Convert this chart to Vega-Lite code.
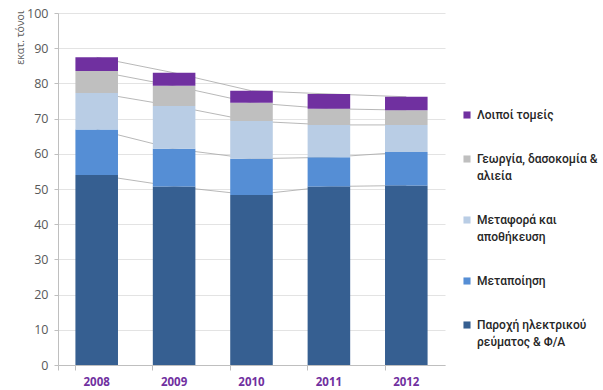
{
  "$schema": "https://vega.github.io/schema/vega-lite/v6.json",
  "autosize": "none",
  "width": 387,
  "height": 352,
  "padding": {"left": 58, "top": 13, "right": 158, "bottom": 25},
  "background": "white",
  "config": {"view": {"stroke": null}},
  "data": {
    "values": [
      {"year": "2008", "sector": "Παροχή ηλεκτρικού ρεύματος & Φ/Α", "rank": 1, "value": 54.0},
      {"year": "2008", "sector": "Μεταποίηση", "rank": 2, "value": 12.9},
      {"year": "2008", "sector": "Μεταφορά και αποθήκευση", "rank": 3, "value": 10.4},
      {"year": "2008", "sector": "Γεωργία, δασοκομία & αλιεία", "rank": 4, "value": 6.2},
      {"year": "2008", "sector": "Λοιποί τομείς", "rank": 5, "value": 3.9},
      {"year": "2009", "sector": "Παροχή ηλεκτρικού ρεύματος & Φ/Α", "rank": 1, "value": 50.7},
      {"year": "2009", "sector": "Μεταποίηση", "rank": 2, "value": 10.7},
      {"year": "2009", "sector": "Μεταφορά και αποθήκευση", "rank": 3, "value": 12.2},
      {"year": "2009", "sector": "Γεωργία, δασοκομία & αλιεία", "rank": 4, "value": 5.7},
      {"year": "2009", "sector": "Λοιποί τομείς", "rank": 5, "value": 3.7},
      {"year": "2010", "sector": "Παροχή ηλεκτρικού ρεύματος & Φ/Α", "rank": 1, "value": 48.3},
      {"year": "2010", "sector": "Μεταποίηση", "rank": 2, "value": 10.3},
      {"year": "2010", "sector": "Μεταφορά και αποθήκευση", "rank": 3, "value": 10.7},
      {"year": "2010", "sector": "Γεωργία, δασοκομία & αλιεία", "rank": 4, "value": 5.2},
      {"year": "2010", "sector": "Λοιποί τομείς", "rank": 5, "value": 3.4},
      {"year": "2011", "sector": "Παροχή ηλεκτρικού ρεύματος & Φ/Α", "rank": 1, "value": 50.7},
      {"year": "2011", "sector": "Μεταποίηση", "rank": 2, "value": 8.3},
      {"year": "2011", "sector": "Μεταφορά και αποθήκευση", "rank": 3, "value": 9.2},
      {"year": "2011", "sector": "Γεωργία, δασοκομία & αλιεία", "rank": 4, "value": 4.6},
      {"year": "2011", "sector": "Λοιποί τομείς", "rank": 5, "value": 4.2},
      {"year": "2012", "sector": "Παροχή ηλεκτρικού ρεύματος & Φ/Α", "rank": 1, "value": 51.0},
      {"year": "2012", "sector": "Μεταποίηση", "rank": 2, "value": 9.5},
      {"year": "2012", "sector": "Μεταφορά και αποθήκευση", "rank": 3, "value": 7.7},
      {"year": "2012", "sector": "Γεωργία, δασοκομία & αλιεία", "rank": 4, "value": 4.2},
      {"year": "2012", "sector": "Λοιποί τομείς", "rank": 5, "value": 3.8}
    ]
  },
  "encoding": {
    "x": {
      "field": "year", "type": "nominal",
      "scale": {"paddingInner": 0.45, "paddingOuter": 0.225},
      "axis": {
        "title": null, "labelAngle": 0, "bandPosition": 0, "tickExtra": true,
        "domainColor": "#bfbfbf", "tickColor": "#bfbfbf", "tickSize": 5,
        "labelColor": "#7030A0", "labelFont": "Open Sans", "labelFontSize": 11.5,
        "labelFontWeight": "bold", "labelPadding": 6, "grid": false
      }
    }
  },
  "layer": [
    {
      "transform": [
        {"stack": "value", "groupby": ["year"], "sort": [{"field": "rank", "order": "ascending"}], "as": ["v0", "v1"]}
      ],
      "mark": {"type": "line", "strokeWidth": 0.8, "color": "#a6a6a6"},
      "encoding": {
        "y": {
          "field": "v1", "type": "quantitative",
          "scale": {"domain": [0, 100], "nice": false},
          "axis": {
            "title": "εκατ. τόνοι", "titleFont": "Open Sans", "titleFontSize": 10.5,
            "titleFontWeight": "normal", "titleColor": "#595959",
            "titleAngle": 270, "titleAlign": "right", "titleBaseline": "middle",
            "titleX": -38, "titleY": -3,
            "values": [0, 10, 20, 30, 40, 50, 60, 70, 80, 90, 100],
            "labelFont": "Open Sans", "labelFontSize": 12.5, "labelColor": "#595959",
            "labelPadding": 6,
            "domainColor": "#bfbfbf", "tickColor": "#bfbfbf", "tickSize": 4,
            "gridColor": "#e3e3e3", "gridWidth": 1
          }
        },
        "detail": {"field": "sector", "type": "nominal"}
      }
    },
    {
      "mark": {"type": "bar"},
      "encoding": {
        "y": {
          "field": "value", "type": "quantitative", "stack": "zero",
          "scale": {"domain": [0, 100], "nice": false},
          "axis": {
            "title": "εκατ. τόνοι", "titleFont": "Open Sans", "titleFontSize": 10.5,
            "titleFontWeight": "normal", "titleColor": "#595959",
            "titleAngle": 270, "titleAlign": "right", "titleBaseline": "middle",
            "titleX": -38, "titleY": -3,
            "values": [0, 10, 20, 30, 40, 50, 60, 70, 80, 90, 100],
            "labelFont": "Open Sans", "labelFontSize": 12.5, "labelColor": "#595959",
            "labelPadding": 6,
            "domainColor": "#bfbfbf", "tickColor": "#bfbfbf", "tickSize": 4,
            "gridColor": "#e3e3e3", "gridWidth": 1
          }
        },
        "order": {"field": "rank", "type": "quantitative", "sort": "ascending"},
        "color": {
          "field": "sector", "type": "nominal",
          "sort": ["Παροχή ηλεκτρικού ρεύματος & Φ/Α", "Μεταποίηση", "Μεταφορά και αποθήκευση", "Γεωργία, δασοκομία & αλιεία", "Λοιποί τομείς"],
          "scale": {"range": ["#365F91", "#558ED5", "#B9CDE5", "#BFBFBF", "#7030A0"]},
          "legend": {
            "title": null, "orient": "none", "legendX": 403, "legendY": 96,
            "values": ["Λοιποί τομείς", "Γεωργία, δασοκομία & αλιεία", "Μεταφορά και αποθήκευση", "Μεταποίηση", "Παροχή ηλεκτρικού ρεύματος & Φ/Α"],
            "symbolType": "square", "symbolSize": 50, "symbolStrokeWidth": 0,
            "labelFont": "Roboto", "labelFontSize": 12, "labelFontWeight": 500,
            "labelColor": "#262626", "labelLimit": 200, "labelOffset": 4,
            "rowPadding": 32,
            "labelExpr": "datum.label == 'Γεωργία, δασοκομία & αλιεία' ? ['Γεωργία, δασοκομία &', 'αλιεία'] : datum.label == 'Μεταφορά και αποθήκευση' ? ['Μεταφορά και', 'αποθήκευση'] : datum.label == 'Παροχή ηλεκτρικού ρεύματος & Φ/Α' ? ['Παροχή ηλεκτρικού', 'ρεύματος & Φ/Α'] : datum.label",
            "encode": {"labels": {"update": {"lineHeight": {"value": 17}}}}
          }
        }
      }
    }
  ]
}
